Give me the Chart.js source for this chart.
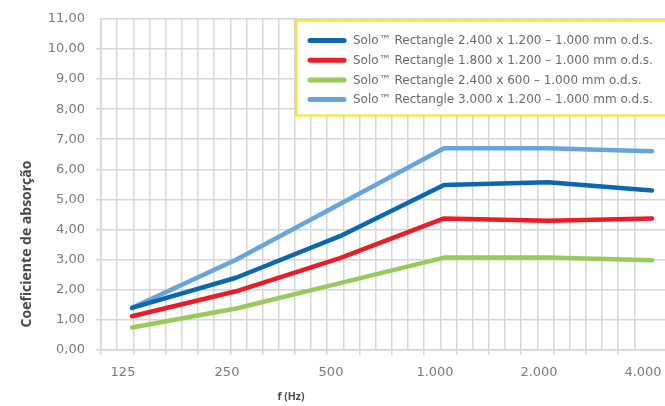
<!DOCTYPE html>
<html>
<head>
<meta charset="utf-8">
<title>Coeficiente de absorção</title>
<script src="https://cdn.jsdelivr.net/npm/chart.js"></script>
<style>
  html, body { margin: 0; padding: 0; background: #fff; }
  #wrap { width: 665px; height: 406px; position: relative; }
</style>
</head>
<body>
<div id="wrap"><canvas id="canvas"></canvas></div>
<script>
// dados
const frequencias = ['125', '250', '500', '1.000', '2.000', '4.000']
const solo2400x1200 = [1.40, 2.40, 3.78, 5.48, 5.57, 5.30]
const solo1800x1200 = [1.12, 1.95, 3.05, 4.37, 4.29, 4.37]
const solo2400x600 = [0.75, 1.38, 2.22, 3.07, 3.07, 2.98]
const solo3000x1200 = [1.40, 3.00, 4.85, 6.70, 6.70, 6.60]
const nomes = [
  'Solo™ Rectangle 2.400 x 1.200 – 1.000 mm o.d.s.',
  'Solo™ Rectangle 1.800 x 1.200 – 1.000 mm o.d.s.',
  'Solo™ Rectangle 2.400 x 600 – 1.000 mm o.d.s.',
  'Solo™ Rectangle 3.000 x 1.200 – 1.000 mm o.d.s.'
]
const yMin = 0
const yMax = 11
const tituloY = 'Coeficiente de absorção'
const tituloX = 'f (Hz)'

const cores = ['#0a68b1', '#ec1c24', '#98c95a', '#64a5dc']
const corGrade = '#d6d6d6'
const corTexto = '#7a7a7a'

const pontos = vals => vals.map((v, i) => ({ x: i, y: v }))
const series = [solo2400x1200, solo1800x1200, solo2400x600, solo3000x1200]

// titulos e legenda desenhados no canvas
const extras = {
  id: 'extras',
  afterDatasetsDraw(chart) {
    const ctx = chart.ctx
    const area = chart.chartArea
    ctx.save()

    // legenda com borda amarela
    const lx = 296, ly = 20.5, lh = 95
    ctx.fillStyle = '#fff'
    ctx.fillRect(lx, ly, chart.width - lx + 5, lh)
    ctx.strokeStyle = '#ffe11a'
    ctx.lineWidth = 2
    ctx.strokeRect(lx, ly, chart.width - lx + 5, lh)
    ctx.font = '12px "DejaVu Sans"'
    ctx.textBaseline = 'middle'
    ctx.textAlign = 'left'
    chart.data.datasets.forEach((ds, i) => {
      const y = ly + 20 + i * 19.7
      ctx.strokeStyle = ds.borderColor
      ctx.lineWidth = 5
      ctx.lineCap = 'round'
      ctx.beginPath()
      ctx.moveTo(310, y)
      ctx.lineTo(344, y)
      ctx.stroke()
      ctx.fillStyle = '#6a6a6a'
      ctx.fillText(ds.label, 353, y + 0.5)
    })

    // titulo do eixo y
    ctx.fillStyle = '#4a4a4a'
    ctx.font = 'bold 14px "Open Sans"'
    ctx.textAlign = 'center'
    ctx.translate(27, area.bottom - 106)
    ctx.rotate(-Math.PI / 2)
    ctx.fillText(tituloY, 0, 0)
    ctx.setTransform(1, 0, 0, 1, 0, 0)

    // titulo do eixo x
    ctx.font = 'bold 10.5px "Open Sans"'
    ctx.fillText(tituloX, 291, 397)
    ctx.restore()
  }
}

const canvas = document.querySelector('#canvas')
const chart = new Chart(canvas.getContext('2d'), {
  type: 'line',
  data: {
    datasets: series.map((s, i) => ({
      label: nomes[i],
      data: pontos(s),
      xAxisID: 'x',
      yAxisID: 'y',
      borderColor: cores[i],
      backgroundColor: cores[i],
      borderWidth: 4.5,
      borderCapStyle: 'round',
      borderJoinStyle: 'round',
      pointRadius: 0,
      tension: 0,
      fill: false
    }))
  },
  options: {
    responsive: true,
    maintainAspectRatio: false,
    animation: false,
    layout: { padding: { top: 14, left: 0, right: 0, bottom: 0 } },
    plugins: {
      legend: { display: false },
      tooltip: { enabled: false }
    },
    scales: {
      xg: {
        type: 'linear',
        position: 'bottom',
        weight: 0,
        min: 0,
        max: 34.9,
        afterBuildTicks: s => { s.ticks = s.ticks.filter(t => Number.isInteger(t.value)) },
        afterFit: s => { s.height = 5; s.paddingLeft = 0; s.paddingRight = 0 },
        ticks: { display: false, stepSize: 1 },
        grid: {
          color: corGrade,
          lineWidth: 1.5,
          drawTicks: true,
          tickLength: 5,
          tickColor: c => (c.tick && c.tick.value % 2 === 0) ? corGrade : 'rgba(0,0,0,0)'
        },
        border: { display: true, color: corGrade, width: 1.5 }
      },
      x: {
        type: 'linear',
        position: 'bottom',
        weight: 1,
        min: -0.298,
        max: 5.125,
        afterBuildTicks: s => { s.ticks = frequencias.map((f, i) => ({ value: i })) },
        afterFit: s => { s.height = 51; s.paddingLeft = 0; s.paddingRight = 0 },
        ticks: {
          callback: v => frequencias[v],
          color: corTexto,
          font: { family: 'DejaVu Sans', size: 13 },
          padding: 10,
          labelOffset: -9,
          maxRotation: 0,
          autoSkip: false
        },
        grid: { display: false, drawTicks: false },
        border: { display: false }
      },
      y: {
        min: yMin,
        max: yMax,
        afterFit: s => { s.width = 101 },
        ticks: {
          stepSize: 1,
          color: corTexto,
          font: { family: 'DejaVu Sans', size: 13 },
          padding: 11,
          callback: v => v.toFixed(2).replace('.', ',')
        },
        grid: {
          color: corGrade,
          lineWidth: 1.5,
          tickLength: 5,
          tickColor: c => (c.tick && c.tick.value === yMax) ? 'rgba(0,0,0,0)' : corGrade
        },
        border: { display: true, color: corGrade, width: 1.5 }
      }
    }
  },
  plugins: [extras]
})
</script>
</body>
</html>
